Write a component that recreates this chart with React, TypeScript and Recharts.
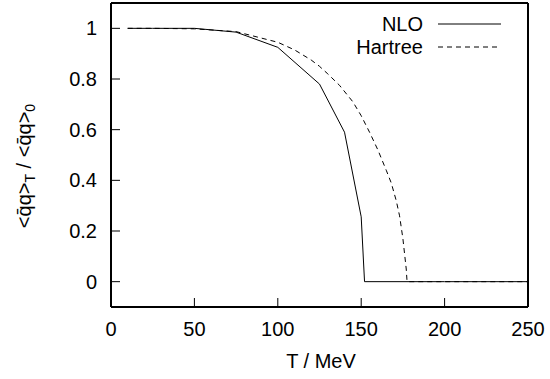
import React from "react";
import { LineChart, Line, XAxis, YAxis, Legend } from "recharts";

const nloT = [10, 25, 50, 75, 100, 125, 140, 150, 152, 200, 250];
const nloV = [1, 1, 1, 0.985, 0.925, 0.78, 0.59, 0.256, 0, 0, 0];

const hartreeT = [10, 25, 50, 75, 100, 110, 120, 125, 130, 137, 145, 150, 155, 160, 165, 168, 171, 173, 175, 176, 177, 177.5, 200, 250];
const hartreeV = [1, 1, 0.998, 0.987, 0.945, 0.915, 0.875, 0.85, 0.82, 0.775, 0.71, 0.655, 0.59, 0.52, 0.44, 0.39, 0.32, 0.26, 0.17, 0.11, 0.05, 0, 0, 0];

const xTicks = [0, 50, 100, 150, 200, 250];
const yTicks = [0, 0.2, 0.4, 0.6, 0.8, 1];
const seriesNames = ["NLO", "Hartree"];

const nloData = nloT.map((t, i) => ({ T: t, v: nloV[i] }));
const hartreeData = hartreeT.map((t, i) => ({ T: t, v: hartreeV[i] }));

const FONT = "'Liberation Sans', Arial, Helvetica, sans-serif";
const FS = 20;
const TICK = 9;
const DASH = "5 4";
const FRAME = { stroke: "#000", strokeWidth: 2 };

const BottomTick = (p: any) => (
  <g>
    <line x1={p.x} x2={p.x} y1={p.y} y2={p.y - TICK} stroke="#000" strokeWidth={1} />
    <text x={p.x} y={p.y + 29} textAnchor="middle" fontFamily={FONT} fontSize={FS} fill="#000">
      {p.payload.value}
    </text>
  </g>
);
const TopTick = (p: any) => (
  <line x1={p.x} x2={p.x} y1={p.y} y2={p.y + TICK} stroke="#000" strokeWidth={1} />
);
const LeftTick = (p: any) => (
  <g>
    <line x1={p.x} x2={p.x + TICK} y1={p.y} y2={p.y} stroke="#000" strokeWidth={1} />
    <text x={p.x - 14} y={p.y + 7} textAnchor="end" fontFamily={FONT} fontSize={FS} fill="#000">
      {String(p.payload.value)}
    </text>
  </g>
);
const RightTick = (p: any) => (
  <line x1={p.x} x2={p.x - TICK} y1={p.y} y2={p.y} stroke="#000" strokeWidth={1} />
);

const XTitle = () => (
  <text x={321} y={368} textAnchor="middle" fontFamily={FONT} fontSize={FS} fill="#000">
    T / MeV
  </text>
);

const YTitle = () => (
  <text
    transform="translate(31,166) rotate(-90)"
    textAnchor="middle"
    fontFamily={FONT}
    fontSize={FS}
    fill="#000"
  >
    <tspan>{"<q\u0304q>"}</tspan>
    <tspan fontSize={14} dy={4}>T</tspan>
    <tspan dy={-4}>{" / <q\u0304q>"}</tspan>
    <tspan fontSize={14} dy={4}>0</tspan>
  </text>
);

const LegendContent = () => (
  <svg width={550} height={60} style={{ display: "block" }}>
    {seriesNames.map((name, i) => {
      const y = 24 + i * 23;
      return (
        <g key={name}>
          <text x={423} y={y + 7} textAnchor="end" fontFamily={FONT} fontSize={FS} fill="#000">
            {name}
          </text>
          <line x1={438} x2={501} y1={y} y2={y} stroke="#000" strokeWidth={1} strokeDasharray={i === 1 ? DASH : undefined} />
        </g>
      );
    })}
  </svg>
);

export default function App() {
  return (
    <div style={{ position: "absolute", left: 0, top: 0, background: "#fff" }}>
      <LineChart width={550} height={379} margin={{ top: 2, right: 21, bottom: 42, left: 51 }}>
        <XAxis
          xAxisId="b"
          dataKey="T"
          type="number"
          domain={[0, 250]}
          ticks={xTicks}
          height={30}
          tickSize={0}
          tickMargin={0}
          tickLine={false}
          tick={BottomTick}
          axisLine={FRAME}
          interval={0}
          label={{ content: XTitle }}
        />
        <XAxis
          xAxisId="t"
          orientation="top"
          dataKey="T"
          type="number"
          domain={[0, 250]}
          ticks={xTicks}
          height={1}
          tickSize={0}
          tickMargin={0}
          tickLine={false}
          tick={TopTick}
          axisLine={FRAME}
          interval={0}
        />
        <YAxis
          yAxisId="l"
          type="number"
          domain={[-0.1, 1.1]}
          ticks={yTicks}
          width={60}
          tickSize={0}
          tickMargin={0}
          tickLine={false}
          tick={LeftTick}
          axisLine={FRAME}
          interval={0}
          label={{ content: YTitle }}
        />
        <YAxis
          yAxisId="r"
          orientation="right"
          type="number"
          domain={[-0.1, 1.1]}
          ticks={yTicks}
          width={1}
          tickSize={0}
          tickMargin={0}
          tickLine={false}
          tick={RightTick}
          axisLine={FRAME}
          interval={0}
        />
        <Legend
          layout="horizontal"
          verticalAlign="middle"
          align="center"
          wrapperStyle={{ top: 0, left: 0, width: 550, height: 60 }}
          content={LegendContent}
        />
        <Line
          xAxisId="b"
          yAxisId="l"
          data={hartreeData}
          dataKey="v"
          name={seriesNames[1]}
          type="linear"
          stroke="#000"
          strokeWidth={1}
          strokeDasharray={DASH}
          dot={false}
          activeDot={false}
          isAnimationActive={false}
        />
        <Line
          xAxisId="b"
          yAxisId="l"
          data={nloData}
          dataKey="v"
          name={seriesNames[0]}
          type="linear"
          stroke="#000"
          strokeWidth={1}
          dot={false}
          activeDot={false}
          isAnimationActive={false}
        />
      </LineChart>
    </div>
  );
}
